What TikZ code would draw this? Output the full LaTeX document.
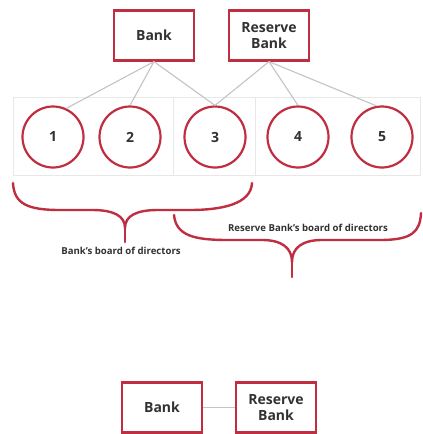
\documentclass[tikz,border=0pt]{standalone}
\usepackage{fontspec}
\setmainfont{Open Sans}
\begin{document}
\begin{tikzpicture}[x=1pt,y=-1pt,
  redline/.style={draw=boxred,line width=2.2pt},
  orgbox/.style={redline,rectangle,fill=white,minimum width=80pt,minimum height=50pt,
    inner sep=1pt,align=center,font=\bfseries\fontsize{14}{16.5}\selectfont,text=textgray},
  member/.style={redline,circle,minimum size=61pt,inner sep=0pt,
    font=\bfseries\fontsize{14}{16}\selectfont,text=textgray},
  link/.style={draw=linegray,line width=1.1pt},
  cell/.style={draw=gridgray,line width=0.6pt},
  bracecurve/.style={draw=boxred,line width=2.4pt,line cap=round,line join=round},
  boardlabel/.style={font=\bfseries\fontsize{9.6}{11}\selectfont,text=textgray}]
\definecolor{boxred}{RGB}{192,46,66}
\definecolor{linegray}{RGB}{196,196,196}
\definecolor{gridgray}{RGB}{232,232,232}
\definecolor{textgray}{RGB}{50,50,50}
\useasboundingbox (0,0) rectangle (423,434);
\fill[white] (0,0) rectangle (423,434);

% faint table behind the members
\draw[cell] (13,97) rectangle (173,175);
\draw[cell] (173,97) rectangle (255,175);
\draw[cell] (255,97) rectangle (420,175);

% organisations
\node[orgbox] (bank) at (154,35.5) {Bank};
\node[orgbox] (rbank) at (269,35.5) {Reserve\\Bank};

% board members
\node[member] (m1) at (53,137) {1};
\node[member] (m2) at (130,137) {2};
\node[member] (m3) at (215,137) {3};
\node[member] (m4) at (298,137) {4};
\node[member] (m5) at (382,137) {5};

% memberships
\draw[link] (bank.south) -- (m1.65);
\draw[link] (bank.south) -- (m2.north);
\draw[link] (bank.south) -- (m3.north);
\draw[link] (rbank.south) -- (m3.north);
\draw[link] (rbank.south) -- (m4.north);
\draw[link] (rbank.south) -- (m5.100);

% Bank's board brace
\coordinate (b1tip) at (125,242);
\draw[bracecurve] (13,183) .. controls (14,204) and (28,210) .. (60,210)
  -- (92,210) .. controls (114,210) and (125,216) .. (125,228)
  .. controls (125,216) and (136,210) .. (158,210)
  -- (190,210) .. controls (222,210) and (251,204) .. (252,183);
\draw[bracecurve] (125,226) -- (b1tip);
\node[boardlabel,anchor=north] (blabel) at (121,244) {Bank's board of directors};

% Reserve Bank's board brace
\coordinate (b2tip) at (292,277);
\draw[bracecurve] (174,215) .. controls (176,236) and (195,240) .. (228,240)
  -- (262,240) .. controls (282,240) and (292,248) .. (292,262)
  .. controls (292,248) and (302,240) .. (322,240)
  -- (380,240) .. controls (412,240) and (420,232) .. (421,213);
\draw[bracecurve] (292,260) -- (b2tip);
\node[boardlabel] (rlabel) at (308,228) {Reserve Bank's board of directors};

% the two organisations side by side
\node[orgbox] (bank2) at (162,407.5) {Bank};
\node[orgbox] (rbank2) at (276,407.5) {Reserve\\Bank};
\draw[link] (bank2) -- (rbank2);
\end{tikzpicture}
\end{document}
